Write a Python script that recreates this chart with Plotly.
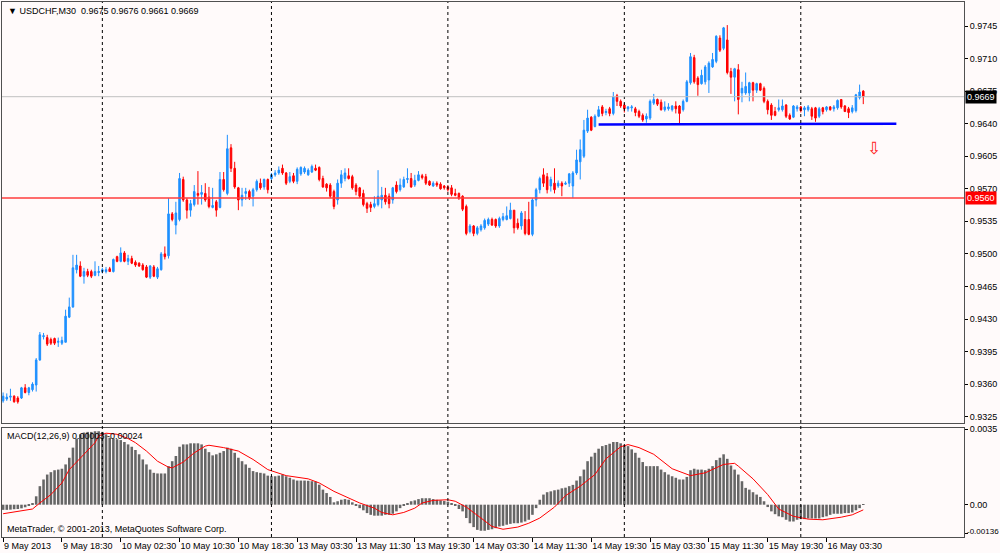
"""USDCHF M30 candlestick chart with MACD(12,26,9) panel, MetaTrader style."""

import plotly.graph_objects as go

# ---------------------------------------------------------------------------
# data -- one entry per M30 bar, 9 May 10:30 .. 16 May 08:30
# ---------------------------------------------------------------------------

opens = [
    0.9342, 0.9344, 0.9346, 0.9347, 0.9345, 0.9345, 0.9356, 0.9351, 0.9354, 0.9359,
    0.9386, 0.9411, 0.9410, 0.9408, 0.9409, 0.9405, 0.9404, 0.9405, 0.9432, 0.9443,
    0.9483, 0.9487, 0.9476, 0.9481, 0.9481, 0.9477, 0.9480, 0.9481, 0.9481, 0.9484,
    0.9481, 0.9497, 0.9492, 0.9501, 0.9492, 0.9495, 0.9491, 0.9490, 0.9488, 0.9486,
    0.9475, 0.9486, 0.9475, 0.9483, 0.9500, 0.9498, 0.9543, 0.9531, 0.9537, 0.9580,
    0.9558, 0.9547, 0.9553, 0.9565, 0.9564, 0.9565, 0.9561, 0.9550, 0.9556, 0.9550,
    0.9580, 0.9565, 0.9614, 0.9592, 0.9571, 0.9558, 0.9565, 0.9567, 0.9562, 0.9569,
    0.9576, 0.9572, 0.9580, 0.9581, 0.9585, 0.9587, 0.9592, 0.9587, 0.9578, 0.9584,
    0.9578, 0.9586, 0.9588, 0.9585, 0.9588, 0.9592, 0.9593, 0.9581, 0.9575, 0.9574,
    0.9567, 0.9558, 0.9576, 0.9581, 0.9584, 0.9583, 0.9574, 0.9571, 0.9565, 0.9554,
    0.9553, 0.9551, 0.9553, 0.9558, 0.9563, 0.9562, 0.9558, 0.9574, 0.9569, 0.9572,
    0.9580, 0.9581, 0.9574, 0.9579, 0.9584, 0.9583, 0.9578, 0.9573, 0.9576, 0.9575,
    0.9573, 0.9572, 0.9571, 0.9565, 0.9565, 0.9562, 0.9551, 0.9524, 0.9530, 0.9522,
    0.9526, 0.9528, 0.9532, 0.9537, 0.9537, 0.9530, 0.9537, 0.9537, 0.9538, 0.9547,
    0.9533, 0.9530, 0.9537, 0.9537, 0.9521, 0.9558, 0.9569, 0.9585, 0.9583, 0.9573,
    0.9576, 0.9573, 0.9576, 0.9575, 0.9576, 0.9573, 0.9587, 0.9599, 0.9605, 0.9632,
    0.9647, 0.9637, 0.9648, 0.9658, 0.9652, 0.9656, 0.9651, 0.9670, 0.9664, 0.9660,
    0.9656, 0.9657, 0.9656, 0.9653, 0.9649, 0.9645, 0.9646, 0.9662, 0.9666, 0.9663,
    0.9655, 0.9656, 0.9655, 0.9659, 0.9659, 0.9655, 0.9664, 0.9684, 0.9711, 0.9689,
    0.9683, 0.9685, 0.9687, 0.9701, 0.9707, 0.9732, 0.9721, 0.9730, 0.9696, 0.9690,
    0.9698, 0.9673, 0.9673, 0.9673, 0.9684, 0.9676, 0.9683, 0.9678, 0.9664, 0.9660,
    0.9653, 0.9655, 0.9655, 0.9660, 0.9649, 0.9647, 0.9656, 0.9658, 0.9655, 0.9655,
    0.9656, 0.9657, 0.9648, 0.9657, 0.9655, 0.9658, 0.9656, 0.9657, 0.9666, 0.9659,
    0.9656, 0.9653, 0.9654, 0.9668, 0.9675,
]

highs = [
    0.9351, 0.9350, 0.9355, 0.9348, 0.9347, 0.9357, 0.9360, 0.9357, 0.9362, 0.9388,
    0.9416, 0.9415, 0.9413, 0.9410, 0.9410, 0.9410, 0.9411, 0.9440, 0.9453, 0.9499,
    0.9499, 0.9492, 0.9485, 0.9484, 0.9483, 0.9492, 0.9487, 0.9485, 0.9486, 0.9486,
    0.9495, 0.9498, 0.9507, 0.9503, 0.9499, 0.9498, 0.9493, 0.9491, 0.9490, 0.9488,
    0.9488, 0.9488, 0.9486, 0.9502, 0.9508, 0.9560, 0.9545, 0.9556, 0.9587, 0.9583,
    0.9560, 0.9558, 0.9574, 0.9589, 0.9574, 0.9576, 0.9572, 0.9571, 0.9558, 0.9588,
    0.9588, 0.9628, 0.9618, 0.9599, 0.9572, 0.9571, 0.9571, 0.9569, 0.9571, 0.9580,
    0.9581, 0.9581, 0.9581, 0.9587, 0.9590, 0.9594, 0.9596, 0.9588, 0.9588, 0.9587,
    0.9593, 0.9594, 0.9594, 0.9592, 0.9596, 0.9596, 0.9594, 0.9584, 0.9576, 0.9576,
    0.9569, 0.9580, 0.9590, 0.9592, 0.9592, 0.9585, 0.9576, 0.9572, 0.9569, 0.9556,
    0.9556, 0.9562, 0.9590, 0.9572, 0.9571, 0.9565, 0.9572, 0.9578, 0.9581, 0.9583,
    0.9592, 0.9587, 0.9585, 0.9589, 0.9586, 0.9586, 0.9579, 0.9578, 0.9578, 0.9577,
    0.9574, 0.9574, 0.9574, 0.9570, 0.9566, 0.9563, 0.9553, 0.9532, 0.9531, 0.9530,
    0.9532, 0.9538, 0.9539, 0.9539, 0.9538, 0.9540, 0.9544, 0.9551, 0.9555, 0.9547,
    0.9538, 0.9546, 0.9546, 0.9556, 0.9560, 0.9571, 0.9583, 0.9592, 0.9587, 0.9583,
    0.9592, 0.9579, 0.9578, 0.9578, 0.9587, 0.9589, 0.9612, 0.9623, 0.9644, 0.9655,
    0.9648, 0.9650, 0.9659, 0.9660, 0.9656, 0.9658, 0.9674, 0.9672, 0.9666, 0.9662,
    0.9659, 0.9660, 0.9658, 0.9655, 0.9651, 0.9651, 0.9666, 0.9672, 0.9667, 0.9666,
    0.9664, 0.9662, 0.9660, 0.9664, 0.9660, 0.9666, 0.9687, 0.9716, 0.9714, 0.9691,
    0.9698, 0.9703, 0.9707, 0.9716, 0.9735, 0.9735, 0.9744, 0.9746, 0.9700, 0.9700,
    0.9704, 0.9685, 0.9695, 0.9685, 0.9685, 0.9684, 0.9684, 0.9680, 0.9666, 0.9662,
    0.9658, 0.9666, 0.9666, 0.9661, 0.9651, 0.9660, 0.9660, 0.9659, 0.9659, 0.9660,
    0.9658, 0.9658, 0.9658, 0.9658, 0.9659, 0.9659, 0.9660, 0.9666, 0.9666, 0.9660,
    0.9658, 0.9660, 0.9672, 0.9682, 0.9676,
]

lows = [
    0.9340, 0.9342, 0.9342, 0.9340, 0.9339, 0.9344, 0.9350, 0.9348, 0.9352, 0.9352,
    0.9385, 0.9408, 0.9401, 0.9402, 0.9402, 0.9400, 0.9402, 0.9405, 0.9431, 0.9442,
    0.9479, 0.9475, 0.9468, 0.9475, 0.9474, 0.9476, 0.9476, 0.9479, 0.9479, 0.9481,
    0.9480, 0.9491, 0.9491, 0.9491, 0.9488, 0.9489, 0.9486, 0.9486, 0.9482, 0.9474,
    0.9473, 0.9475, 0.9473, 0.9482, 0.9494, 0.9495, 0.9535, 0.9521, 0.9535, 0.9556,
    0.9538, 0.9540, 0.9551, 0.9553, 0.9553, 0.9556, 0.9549, 0.9549, 0.9540, 0.9549,
    0.9567, 0.9563, 0.9588, 0.9570, 0.9547, 0.9551, 0.9558, 0.9558, 0.9551, 0.9567,
    0.9569, 0.9569, 0.9565, 0.9579, 0.9583, 0.9585, 0.9585, 0.9574, 0.9576, 0.9576,
    0.9575, 0.9584, 0.9586, 0.9584, 0.9587, 0.9589, 0.9578, 0.9571, 0.9567, 0.9560,
    0.9548, 0.9553, 0.9571, 0.9578, 0.9580, 0.9569, 0.9563, 0.9560, 0.9551, 0.9544,
    0.9545, 0.9549, 0.9551, 0.9549, 0.9553, 0.9549, 0.9554, 0.9565, 0.9567, 0.9571,
    0.9576, 0.9571, 0.9572, 0.9578, 0.9580, 0.9574, 0.9573, 0.9572, 0.9572, 0.9569,
    0.9569, 0.9567, 0.9562, 0.9562, 0.9558, 0.9546, 0.9520, 0.9522, 0.9519, 0.9520,
    0.9524, 0.9526, 0.9530, 0.9530, 0.9528, 0.9528, 0.9535, 0.9536, 0.9537, 0.9522,
    0.9526, 0.9526, 0.9520, 0.9520, 0.9519, 0.9551, 0.9565, 0.9572, 0.9565, 0.9567,
    0.9565, 0.9571, 0.9562, 0.9574, 0.9572, 0.9560, 0.9585, 0.9580, 0.9603, 0.9630,
    0.9632, 0.9636, 0.9647, 0.9648, 0.9649, 0.9648, 0.9649, 0.9659, 0.9657, 0.9652,
    0.9653, 0.9653, 0.9648, 0.9646, 0.9642, 0.9641, 0.9644, 0.9660, 0.9659, 0.9654,
    0.9653, 0.9654, 0.9653, 0.9651, 0.9640, 0.9653, 0.9663, 0.9682, 0.9683, 0.9670,
    0.9682, 0.9682, 0.9673, 0.9700, 0.9705, 0.9717, 0.9719, 0.9693, 0.9672, 0.9664,
    0.9650, 0.9663, 0.9671, 0.9664, 0.9664, 0.9673, 0.9675, 0.9662, 0.9650, 0.9644,
    0.9648, 0.9653, 0.9653, 0.9646, 0.9644, 0.9646, 0.9653, 0.9652, 0.9648, 0.9653,
    0.9644, 0.9642, 0.9646, 0.9650, 0.9653, 0.9654, 0.9653, 0.9655, 0.9656, 0.9653,
    0.9646, 0.9651, 0.9652, 0.9666, 0.9661,
]

closes = [
    0.9347, 0.9346, 0.9347, 0.9341, 0.9341, 0.9356, 0.9351, 0.9356, 0.9360, 0.9386,
    0.9413, 0.9412, 0.9403, 0.9404, 0.9404, 0.9406, 0.9407, 0.9433, 0.9443, 0.9485,
    0.9488, 0.9476, 0.9481, 0.9477, 0.9476, 0.9481, 0.9481, 0.9483, 0.9483, 0.9481,
    0.9494, 0.9492, 0.9501, 0.9492, 0.9495, 0.9490, 0.9488, 0.9487, 0.9483, 0.9475,
    0.9487, 0.9476, 0.9484, 0.9500, 0.9497, 0.9543, 0.9537, 0.9544, 0.9581, 0.9558,
    0.9547, 0.9554, 0.9567, 0.9563, 0.9566, 0.9558, 0.9551, 0.9552, 0.9547, 0.9580,
    0.9569, 0.9613, 0.9592, 0.9572, 0.9558, 0.9563, 0.9567, 0.9560, 0.9569, 0.9578,
    0.9571, 0.9580, 0.9569, 0.9585, 0.9587, 0.9590, 0.9587, 0.9576, 0.9583, 0.9578,
    0.9591, 0.9593, 0.9592, 0.9590, 0.9594, 0.9590, 0.9580, 0.9572, 0.9571, 0.9562,
    0.9551, 0.9576, 0.9585, 0.9587, 0.9581, 0.9571, 0.9567, 0.9562, 0.9553, 0.9549,
    0.9550, 0.9554, 0.9562, 0.9563, 0.9556, 0.9554, 0.9571, 0.9567, 0.9574, 0.9580,
    0.9581, 0.9572, 0.9579, 0.9585, 0.9582, 0.9576, 0.9574, 0.9576, 0.9574, 0.9570,
    0.9571, 0.9569, 0.9564, 0.9563, 0.9560, 0.9548, 0.9522, 0.9530, 0.9522, 0.9528,
    0.9530, 0.9536, 0.9537, 0.9531, 0.9530, 0.9538, 0.9540, 0.9541, 0.9547, 0.9528,
    0.9528, 0.9544, 0.9522, 0.9521, 0.9558, 0.9569, 0.9581, 0.9576, 0.9569, 0.9580,
    0.9569, 0.9576, 0.9573, 0.9576, 0.9586, 0.9587, 0.9601, 0.9612, 0.9633, 0.9646,
    0.9633, 0.9648, 0.9655, 0.9651, 0.9653, 0.9651, 0.9669, 0.9664, 0.9659, 0.9656,
    0.9658, 0.9658, 0.9652, 0.9648, 0.9644, 0.9648, 0.9664, 0.9666, 0.9661, 0.9655,
    0.9658, 0.9658, 0.9659, 0.9656, 0.9651, 0.9664, 0.9685, 0.9712, 0.9685, 0.9682,
    0.9692, 0.9701, 0.9705, 0.9709, 0.9734, 0.9719, 0.9743, 0.9695, 0.9690, 0.9699,
    0.9666, 0.9678, 0.9680, 0.9684, 0.9676, 0.9683, 0.9676, 0.9664, 0.9655, 0.9649,
    0.9649, 0.9657, 0.9659, 0.9648, 0.9645, 0.9659, 0.9658, 0.9654, 0.9657, 0.9658,
    0.9648, 0.9646, 0.9656, 0.9653, 0.9658, 0.9655, 0.9658, 0.9665, 0.9658, 0.9653,
    0.9652, 0.9657, 0.9671, 0.9674, 0.9669,
]

# MACD main line (drawn as histogram by MetaTrader)
macd_main = [
    -0.00024, -0.00024, -0.00023, -0.00021, -0.00020, -0.00017, -0.00012, -0.00006, 0.00008, 0.00039,
    0.00086, 0.00117, 0.00140, 0.00151, 0.00160, 0.00163, 0.00167, 0.00187, 0.00218, 0.00265,
    0.00307, 0.00327, 0.00335, 0.00338, 0.00338, 0.00341, 0.00341, 0.00338, 0.00327, 0.00311,
    0.00307, 0.00304, 0.00300, 0.00291, 0.00280, 0.00269, 0.00254, 0.00234, 0.00210, 0.00187,
    0.00163, 0.00148, 0.00145, 0.00145, 0.00145, 0.00179, 0.00202, 0.00226, 0.00269, 0.00280,
    0.00280, 0.00285, 0.00285, 0.00285, 0.00280, 0.00260, 0.00244, 0.00229, 0.00234, 0.00241,
    0.00249, 0.00265, 0.00260, 0.00241, 0.00218, 0.00202, 0.00187, 0.00171, 0.00156, 0.00151,
    0.00148, 0.00145, 0.00135, 0.00132, 0.00132, 0.00135, 0.00140, 0.00132, 0.00125, 0.00117,
    0.00112, 0.00112, 0.00112, 0.00111, 0.00109, 0.00107, 0.00093, 0.00070, 0.00054, 0.00036,
    0.00011, 0.00016, 0.00023, 0.00026, 0.00023, 0.00011, -0.00005, -0.00016, -0.00026, -0.00039,
    -0.00047, -0.00051, -0.00051, -0.00051, -0.00047, -0.00047, -0.00042, -0.00031, -0.00016, -0.00002,
    0.00008, 0.00016, 0.00020, 0.00026, 0.00030, 0.00030, 0.00030, 0.00026, 0.00023, 0.00020,
    0.00017, 0.00014, 0.00005, -0.00005, -0.00020, -0.00031, -0.00062, -0.00086, -0.00104, -0.00117,
    -0.00121, -0.00121, -0.00117, -0.00114, -0.00109, -0.00101, -0.00098, -0.00093, -0.00089, -0.00086,
    -0.00086, -0.00083, -0.00078, -0.00070, -0.00047, -0.00016, 0.00023, 0.00047, 0.00058, 0.00062,
    0.00067, 0.00070, 0.00076, 0.00079, 0.00086, 0.00092, 0.00112, 0.00132, 0.00163, 0.00202,
    0.00223, 0.00241, 0.00260, 0.00272, 0.00277, 0.00283, 0.00291, 0.00291, 0.00285, 0.00277,
    0.00272, 0.00257, 0.00241, 0.00218, 0.00198, 0.00179, 0.00179, 0.00179, 0.00179, 0.00163,
    0.00151, 0.00140, 0.00132, 0.00125, 0.00117, 0.00117, 0.00129, 0.00160, 0.00167, 0.00163,
    0.00163, 0.00160, 0.00167, 0.00179, 0.00207, 0.00218, 0.00234, 0.00213, 0.00182, 0.00163,
    0.00140, 0.00109, 0.00078, 0.00070, 0.00058, 0.00047, 0.00036, 0.00016, -0.00011, -0.00031,
    -0.00044, -0.00054, -0.00058, -0.00070, -0.00078, -0.00078, -0.00070, -0.00067, -0.00067, -0.00064,
    -0.00064, -0.00064, -0.00064, -0.00058, -0.00054, -0.00047, -0.00042, -0.00042, -0.00042, -0.00039,
    -0.00039, -0.00036, -0.00026, -0.00016, 0.00003,
]

# signal line, read at the bars where its shape changes
signal_bars = [
    0, 8, 10, 13, 16, 18, 22, 25, 26, 28, 31, 34, 36, 39, 42, 45, 46, 49, 52, 55,
    56, 60, 64, 68, 72, 74, 77, 83, 86, 90, 94, 97, 101, 103, 106, 109, 112, 114, 117, 121,
    123, 126, 130, 133, 136, 140, 143, 146, 150, 153, 157, 161, 164, 168, 170, 173, 177, 182, 187, 191,
    196, 199, 200, 204, 208, 211, 215, 219, 223, 228, 231, 234,
]
signal_vals = [
    -0.00042, -0.00020, 0.00008, 0.00047, 0.00101, 0.00163, 0.00234, 0.00288, 0.00319, 0.00332,
    0.00327, 0.00307, 0.00288, 0.00249, 0.00202, 0.00174, 0.00171, 0.00198, 0.00241, 0.00272,
    0.00276, 0.00265, 0.00249, 0.00210, 0.00163, 0.00151, 0.00135, 0.00120, 0.00101, 0.00062,
    0.00031, 0.00008, -0.00016, -0.00036, -0.00047, -0.00036, -0.00016, 0.00008, 0.00020, 0.00023,
    0.00016, -0.00011, -0.00062, -0.00101, -0.00114, -0.00104, -0.00086, -0.00062, -0.00011, 0.00042,
    0.00086, 0.00140, 0.00213, 0.00269, 0.00279, 0.00265, 0.00234, 0.00167, 0.00135, 0.00148,
    0.00187, 0.00192, 0.00179, 0.00120, 0.00047, -0.00020, -0.00054, -0.00067, -0.00070, -0.00058,
    -0.00047, -0.00024,
]

# time axis: a label every 16 bars, daily separators
tick_bars = [0, 16, 32, 48, 64, 80, 96, 112, 128, 144, 160, 176, 192, 208, 224]
tick_text = [
    "9 May 2013", "9 May 18:30", "10 May 02:30", "10 May 10:30", "10 May 18:30",
    "13 May 03:30", "13 May 11:30", "13 May 19:30", "14 May 03:30", "14 May 11:30",
    "14 May 19:30", "15 May 03:30", "15 May 11:30", "15 May 19:30", "16 May 03:30",
]
day_separators = [27, 73, 121, 169, 217]

macd_ticks = [0.0035, 0.0, -0.00136]
macd_tick_text = ["0.0035", "0.00", ""]
macd_min_label = "-0.00136"

bid_price = 0.9669
alert_price = 0.9560
trend_bars = [162, 243]
trend_prices = [0.9639, 0.9640]
arrow_bar, arrow_price = 237, 0.9614

BG = "#fffafa"
UP = "#1e90ff"
DOWN = "#ff0000"
FONT = "Liberation Sans, Arial, sans-serif"

bars = list(range(len(opens)))

# ---------------------------------------------------------------------------
# figure
# ---------------------------------------------------------------------------

fig = go.Figure()

fig.add_trace(go.Candlestick(
    x=bars, open=opens, high=highs, low=lows, close=closes,
    xaxis="x", yaxis="y",
    increasing=dict(line=dict(color=UP, width=1), fillcolor=UP),
    decreasing=dict(line=dict(color=DOWN, width=1), fillcolor=DOWN),
    whiskerwidth=0, hoverinfo="skip",
))

fig.add_trace(go.Scatter(
    x=trend_bars, y=trend_prices, mode="lines",
    line=dict(color="#0000ff", width=2.5),
    xaxis="x", yaxis="y", hoverinfo="skip",
))

fig.add_trace(go.Bar(
    x=bars, y=macd_main, marker=dict(color="#666666", line=dict(width=0)),
    xaxis="x2", yaxis="y2", hoverinfo="skip",
))

fig.add_trace(go.Scatter(
    x=signal_bars, y=signal_vals, mode="lines",
    line=dict(color="#ff0000", width=1),
    xaxis="x2", yaxis="y2", hoverinfo="skip",
))

# ---- vertical day separators (both panels) ----
shapes = []
for b in day_separators:
    shapes.append(dict(
        type="line", xref="x2", yref="paper", x0=b, x1=b, y0=0, y1=1,
        line=dict(color="black", width=1, dash="3px,3px"), layer="above",
    ))
# ---- horizontal price lines ----
shapes.append(dict(type="line", xref="x domain", yref="y", x0=0, x1=1,
                   y0=bid_price, y1=bid_price, line=dict(color="#c0c0c0", width=1)))
shapes.append(dict(type="line", xref="x domain", yref="y", x0=0, x1=1,
                   y0=alert_price, y1=alert_price, line=dict(color="#ff3c3c", width=1.5)))

annotations = [
    dict(text="▼ USDCHF,M30  0.9675 0.9676 0.9661 0.9669", xref="paper", yref="paper",
         x=0, y=1, xanchor="left", yanchor="top", xshift=4, yshift=-2,
         showarrow=False, font=dict(size=9, color="black", family=FONT)),
    dict(text="MACD(12,26,9) 0.00003 -0.00024", xref="paper", yref="y2 domain",
         x=0, y=1, xanchor="left", yanchor="top", xshift=3, yshift=-1,
         showarrow=False, font=dict(size=9, color="black", family=FONT)),
    dict(text="MetaTrader, © 2001-2013, MetaQuotes Software Corp.", xref="paper", yref="y2 domain",
         x=0, y=0, xanchor="left", yanchor="bottom", xshift=3, yshift=1,
         showarrow=False, font=dict(size=9, color="black", family=FONT)),
    dict(text=macd_min_label, xref="paper", yref="y2", x=1, y=macd_ticks[2],
         xanchor="left", yanchor="middle", xshift=1, yshift=2, showarrow=False,
         font=dict(size=8, color="black", family=FONT)),
    dict(text=f"{bid_price:.4f}", xref="paper", yref="y", x=1, y=bid_price,
         xanchor="left", yanchor="middle", xshift=1, showarrow=False,
         bgcolor="black", borderpad=1, font=dict(size=9, color="white", family=FONT)),
    dict(text=f"{alert_price:.4f}", xref="paper", yref="y", x=1, y=alert_price,
         xanchor="left", yanchor="middle", xshift=1, showarrow=False,
         bgcolor="#ff0000", borderpad=1, font=dict(size=9, color="white", family=FONT)),
    dict(text="⇩", xref="x", yref="y", x=arrow_bar, y=arrow_price, showarrow=False,
         font=dict(size=17, color="#ff2020", family="DejaVu Sans")),
]

axis_common = dict(showgrid=False, zeroline=False, showline=True, mirror=True,
                   linecolor="#505050", linewidth=1)

fig.update_layout(
    template="none",
    width=1000, height=553,
    margin=dict(l=2, r=36, t=2, b=16),
    paper_bgcolor=BG, plot_bgcolor=BG,
    showlegend=False,
    font=dict(family=FONT, size=9, color="black"),
    bargap=0.3,
    boxgap=0.4,
    shapes=shapes,
    annotations=annotations,
    xaxis=dict(anchor="y", matches="x2", showticklabels=False, ticks="",
               rangeslider=dict(visible=False), **axis_common),
    xaxis2=dict(anchor="y2", range=[-0.3, 261.4], tickmode="array",
                tickvals=tick_bars, ticktext=tick_text, ticks="outside", ticklen=4,
                tickcolor="black", ticklabelposition="outside right", tickangle=0,
                tickfont=dict(size=9), **axis_common),
    yaxis=dict(anchor="x", domain=[0.2131, 1.0], side="right",
               range=[0.93182, 0.97708], tick0=0.9325, dtick=0.0035, tickformat=".4f",
               ticks="outside", ticklen=3, tickcolor="black", tickfont=dict(size=9),
               **axis_common),
    yaxis2=dict(anchor="x2", domain=[0.0, 0.2037], side="right",
                range=[-0.00150, 0.00356], tickmode="array",
                tickvals=macd_ticks, ticktext=macd_tick_text,
                ticks="outside", ticklen=3, tickcolor="black", tickfont=dict(size=9),
                **axis_common),
)

fig.write_html("out.html", config={"displayModeBar": False},
               post_script="document.body.style.margin='0';")
